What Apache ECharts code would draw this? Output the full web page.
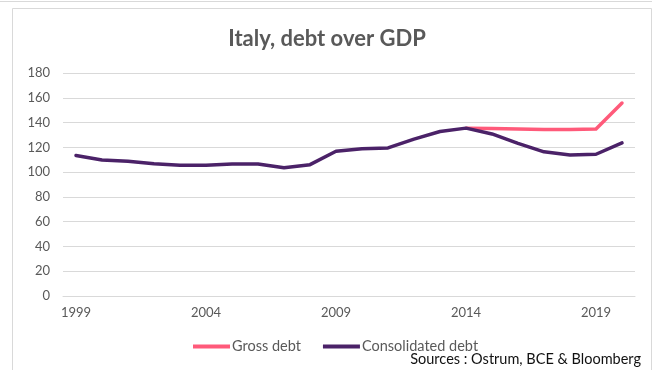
<!DOCTYPE html>
<html>
<head>
<meta charset="utf-8">
<script src="https://cdn.jsdelivr.net/npm/echarts@6/dist/echarts.min.js"></script>
<style>
  html, body { margin: 0; padding: 0; background: #ffffff; }
  #chart { width: 654px; height: 370px; }
</style>
</head>
<body>
<div id="chart"></div>
<script>
// Italy public debt, % of GDP
const years = ['1999','2000','2001','2002','2003','2004','2005','2006','2007','2008','2009',
               '2010','2011','2012','2013','2014','2015','2016','2017','2018','2019','2020'];
const grossDebt = [null,null,null,null,null,null,null,null,null,null,null,
                   null,null,null,null,135.5,135.3,134.8,134.3,134.3,134.8,155.7];
const consolidatedDebt = [113.4,109.8,108.8,106.8,105.6,105.5,106.6,106.6,103.5,106.0,116.8,
                          118.8,119.5,126.6,132.8,135.5,130.8,123.2,116.4,113.9,114.4,123.6];
const yTicks = { min: 0, max: 180, step: 20 };

const FONT = 'Lato, "Open Sans", sans-serif';
const GRID_GREY = '#d9d9d9';
const TEXT_GREY = '#595959';

const chart = echarts.init(document.getElementById('chart'), null, { renderer: 'canvas' });

chart.setOption({
  backgroundColor: '#ffffff',
  animation: false,
  textStyle: { fontFamily: FONT },
  title: {
    text: 'Italy, debt over GDP',
    left: 'center',
    top: 23,
    textStyle: { fontFamily: FONT, fontSize: 22, fontWeight: 'bold', color: TEXT_GREY }
  },
  legend: {
    data: ['Gross debt', 'Consolidated debt'],
    left: 193,
    top: 339,
    padding: 0,
    icon: 'rect',
    itemWidth: 37,
    itemHeight: 4,
    itemGap: 22,
    textStyle: { fontFamily: FONT, fontSize: 14.5, color: TEXT_GREY, padding: [0, 0, 0, -3] }
  },
  grid: { left: 63, right: 19, top: 73, bottom: 74, containLabel: false },
  xAxis: {
    type: 'category',
    data: years,
    boundaryGap: true,
    axisLine: { lineStyle: { color: GRID_GREY, width: 1 } },
    axisTick: { interval: 4, length: 5, lineStyle: { color: GRID_GREY } },
    axisLabel: { interval: 4, color: TEXT_GREY, fontSize: 13, margin: 10, fontFamily: FONT }
  },
  yAxis: {
    type: 'value',
    min: yTicks.min,
    max: yTicks.max,
    interval: yTicks.step,
    axisLine: { show: false },
    axisTick: { show: false },
    splitLine: { lineStyle: { color: GRID_GREY, width: 1 } },
    axisLabel: { color: TEXT_GREY, fontSize: 13, margin: 13, fontFamily: FONT }
  },
  series: [
    {
      name: 'Gross debt',
      type: 'line',
      data: grossDebt,
      showSymbol: false,
      symbol: 'none',
      color: '#ff5a7a',
      lineStyle: { width: 3.5, color: '#ff5a7a', cap: 'round', join: 'round' }
    },
    {
      name: 'Consolidated debt',
      type: 'line',
      data: consolidatedDebt,
      showSymbol: false,
      symbol: 'none',
      color: '#4b2268',
      lineStyle: { width: 3.5, color: '#4b2268', cap: 'round', join: 'round' }
    }
  ],
  graphic: [
    { type: 'line', shape: { x1: 0, y1: 1.5, x2: 652, y2: 1.5 }, style: { stroke: GRID_GREY, lineWidth: 1 } },
    { type: 'rect', shape: { x: 12.5, y: 8.5, width: 639, height: 380 }, style: { fill: null, stroke: GRID_GREY, lineWidth: 1 } },
    {
      type: 'text', right: 13, top: 352,
      style: { text: 'Sources : Ostrum, BCE & Bloomberg', font: '14.5px ' + FONT, fill: '#111111' }
    }
  ]
});
</script>
</body>
</html>
